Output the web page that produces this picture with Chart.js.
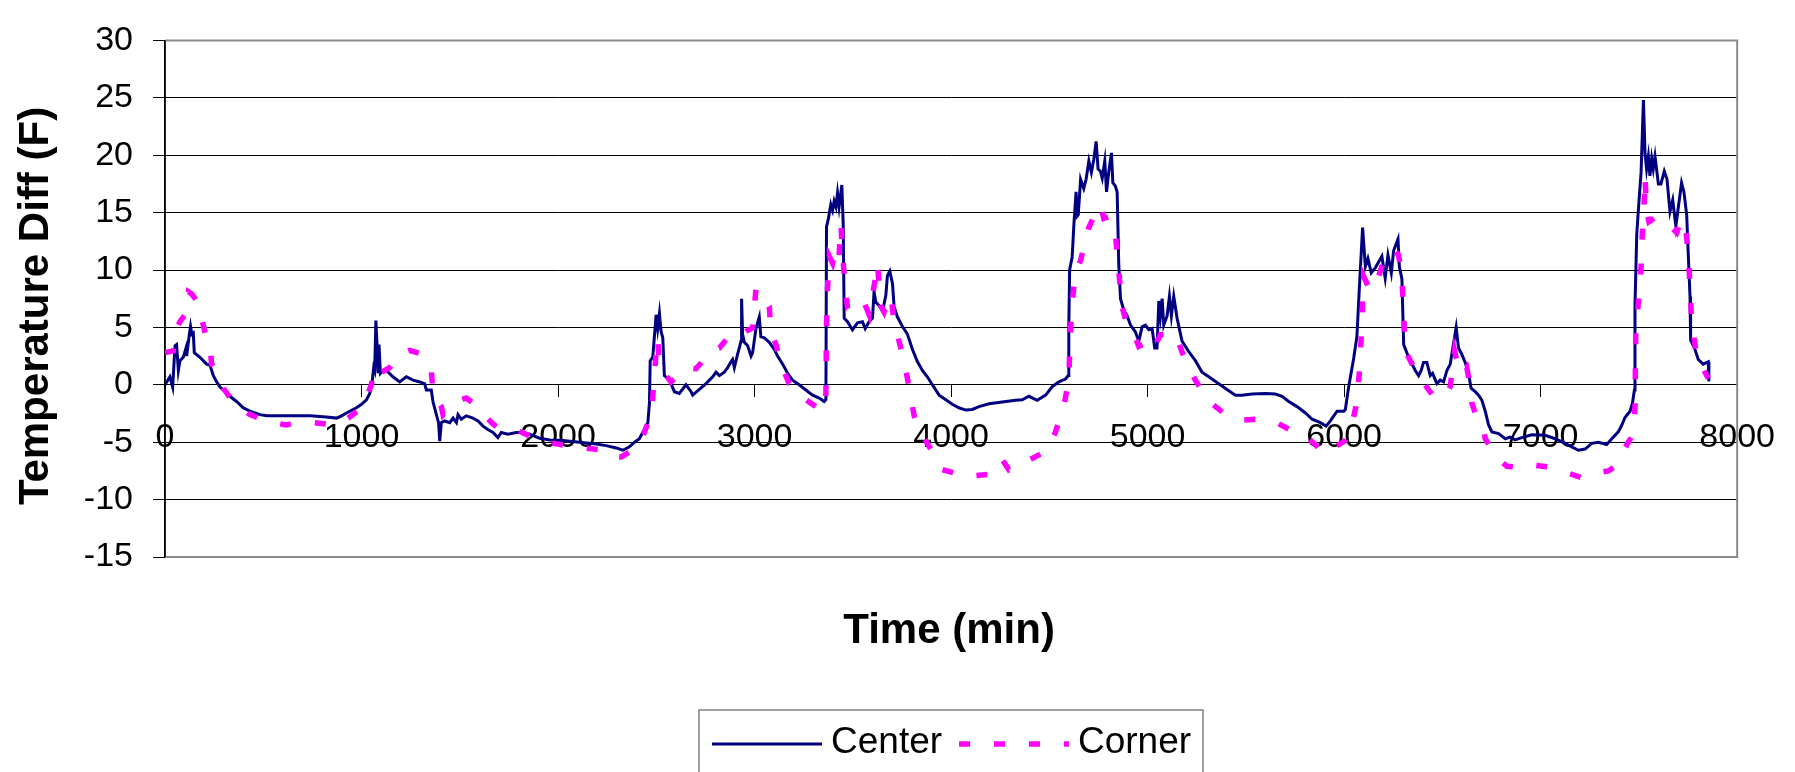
<!DOCTYPE html>
<html>
<head>
<meta charset="utf-8">
<script src="https://cdn.jsdelivr.net/npm/chart.js@4.4.1/dist/chart.umd.min.js"></script>
<style>
html,body{margin:0;padding:0;background:#fff;overflow:hidden}
canvas{display:block}
</style>
</head>
<body>
<canvas id="c" width="1795" height="772"></canvas>
<script>
const seriesNames = ['Center', 'Corner'];
const xAxisTitle = 'Time (min)';
const yAxisTitle = 'Temperature Diff (F)';

const centerTime = [0,25,39,51,59,68,76,93,107,110,124,130,137,144,149,178,195,212,229,246,263,280,305,330,364,398,432,483,517,567,652,737,822,873,898,940,974,1000,1025,1042,1055,1062,1067,1073,1079,1084,1089,1096,1110,1127,1160,1194,1228,1262,1296,1321,1330,1355,1364,1381,1392,1398,1406,1423,1449,1466,1483,1491,1508,1533,1567,1593,1618,1643,1669,1694,1711,1745,1787,1821,1855,1906,1957,2025,2109,2194,2245,2296,2330,2363,2389,2414,2440,2457,2465,2469,2482,2499,2507,2516,2524,2533,2541,2567,2592,2617,2651,2677,2685,2719,2753,2787,2804,2821,2846,2863,2880,2888,2897,2914,2922,2931,2934,2939,2948,2965,2982,2990,3007,3024,3032,3049,3075,3100,3117,3143,3168,3193,3227,3261,3295,3329,3354,3363,3366,3376,3388,3397,3405,3414,3422,3430,3444,3451,3456,3473,3498,3524,3549,3563,3583,3600,3608,3617,3634,3651,3668,3676,3688,3702,3710,3727,3752,3778,3803,3829,3854,3879,3905,3939,3973,4006,4040,4074,4108,4142,4193,4260,4328,4362,4396,4438,4481,4515,4548,4582,4596,4599,4603,4616,4625,4636,4642,4647,4659,4675,4687,4701,4714,4726,4738,4748,4760,4769,4782,4791,4802,4816,4823,4836,4845,4853,4862,4879,4896,4913,4938,4955,4972,4989,5006,5023,5036,5048,5057,5065,5074,5082,5099,5111,5121,5133,5150,5175,5209,5243,5277,5311,5362,5395,5446,5480,5532,5600,5650,5684,5718,5760,5803,5837,5879,5908,5930,5964,5998,6006,6023,6048,6065,6077,6094,6108,6121,6138,6159,6192,6209,6223,6240,6252,6274,6281,6294,6303,6328,6362,6379,6392,6404,6421,6438,6450,6472,6489,6506,6523,6540,6557,6570,6582,6599,6616,6633,6646,6667,6684,6701,6718,6735,6752,6786,6820,6845,6870,6904,6955,7023,7074,7124,7158,7192,7226,7260,7294,7336,7362,7395,7412,7429,7455,7467,7477,7480,7489,7500,7511,7523,7531,7539,7548,7556,7565,7573,7582,7599,7612,7629,7643,7658,7672,7688,7700,7717,7729,7743,7751,7760,7763,7785,7802,7827,7853,7856];
const centerTemp = [0,0.7,-0.2,3.4,3.5,1.25,2.1,2.4,3.2,2.5,4.4,5.1,4.4,4.5,2.8,2.4,2.1,1.8,1.7,0.8,0.25,-0.2,-0.6,-1.0,-1.45,-2.0,-2.3,-2.6,-2.7,-2.7,-2.7,-2.7,-2.8,-2.9,-2.7,-2.3,-2.0,-1.7,-1.3,-0.75,0.4,1.5,1.25,5.6,3.5,1.0,3.5,1.0,1.25,1.25,0.7,0.25,0.7,0.4,0.25,0.1,-0.45,-0.45,-1.5,-2.6,-3.3,-4.9,-3.3,-3.15,-3.3,-2.9,-3.3,-2.6,-3.0,-2.7,-2.9,-3.15,-3.6,-3.9,-4.15,-4.6,-4.15,-4.3,-4.15,-4.15,-4.3,-4.65,-4.8,-4.85,-5.0,-5.15,-5.3,-5.5,-5.7,-5.4,-5.0,-4.7,-3.85,-3.3,-1.6,2.1,2.4,6.1,4.9,6.2,4.65,4.1,0.8,0.4,-0.6,-0.75,0,-0.6,-0.9,-0.4,0.1,0.7,1.1,0.8,1.1,1.5,2.0,2.2,1.5,2.7,3.2,3.8,7.5,4.4,3.7,3.4,2.5,2.8,4.9,5.9,4.2,4.1,3.7,3.1,2.5,1.8,1.0,0.4,0,-0.45,-0.9,-1.15,-1.45,-1.3,13.75,14.5,15.7,15.2,16.0,15.5,16.7,15.5,17.4,14.0,5.8,5.5,4.8,5.4,5.5,4.9,5.5,5.8,8.1,7.2,6.9,6.4,7.8,9.5,9.9,8.8,6.8,5.9,5.1,4.4,3.1,2.0,1.25,0.7,0,-0.9,-1.3,-1.7,-2.0,-2.2,-2.15,-1.9,-1.65,-1.5,-1.35,-1.3,-1.0,-1.35,-0.9,-0.15,0.25,0.5,0.8,4.9,10.0,11.1,14.0,16.8,14.7,14.8,17.9,17.1,17.9,19.5,18.5,19.6,21.2,18.8,18.6,18.0,19.5,16.8,18.5,20.2,17.6,17.3,16.8,10.6,7.5,6.5,6.0,5.2,4.6,3.8,5.05,5.2,4.8,4.9,3.2,3.2,7.3,6.0,7.5,5.2,6.0,7.7,6.0,7.7,5.8,3.8,2.9,2.1,1.1,0.7,0.1,-0.3,-0.9,-0.9,-0.8,-0.75,-0.8,-1.0,-1.45,-1.9,-2.45,-3.0,-3.3,-3.6,-3.15,-2.3,-2.3,-2.15,-0.2,2.25,4.2,8.3,13.7,10.3,11.0,9.75,10.2,11.2,9.3,11.3,9.75,11.7,12.7,10.3,9.2,3.5,2.4,1.25,0.8,1.25,1.95,1.95,0.8,1.0,0.1,0.4,0.25,1.25,1.8,3.65,5.0,3.2,2.65,1.95,1.0,-0.3,-0.6,-0.9,-1.35,-2.3,-3.5,-4.1,-4.25,-4.7,-4.55,-4.8,-4.6,-4.35,-4.4,-4.7,-5.1,-5.4,-5.7,-5.6,-5.1,-5.0,-5.2,-4.7,-4.1,-3.55,-2.85,-2.3,-1.6,-0.45,6.9,13.1,15.9,18.5,24.8,20.2,18.8,19.9,18.2,19.7,18.8,19.9,17.5,17.5,18.6,17.9,15.1,16.1,13.8,15.4,17.6,16.8,14.8,11.4,7.7,3.9,3.1,2.2,1.8,2.0,0.3];

const cornerTime = [0,42,68,76,102,119,136,161,178,212,229,237,254,297,339,364,432,449,517,618,669,762,864,932,1008,1050,1067,1093,1143,1194,1245,1304,1355,1364,1406,1415,1457,1483,1533,1593,1627,1669,1703,1745,1796,1855,1923,1991,2075,2160,2228,2270,2321,2363,2397,2440,2474,2490,2499,2507,2516,2541,2575,2609,2651,2702,2753,2770,2821,2863,2905,2956,2990,3007,3024,3049,3075,3083,3109,3134,3176,3210,3261,3320,3349,3363,3366,3371,3380,3397,3414,3430,3439,3447,3456,3473,3498,3532,3557,3583,3600,3617,3625,3642,3659,3676,3693,3710,3735,3761,3786,3812,3837,3905,3956,4023,4074,4125,4193,4235,4260,4294,4354,4387,4430,4481,4528,4574,4599,4605,4616,4633,4659,4681,4701,4726,4743,4760,4777,4802,4819,4836,4853,4867,4887,4921,4955,4989,5023,5065,5091,5124,5158,5192,5243,5311,5387,5472,5549,5667,5777,5820,5904,5930,6006,6031,6060,6077,6087,6094,6099,6133,6159,6192,6218,6235,6252,6277,6294,6303,6311,6328,6362,6396,6430,6463,6514,6540,6562,6582,6599,6624,6633,6650,6667,6709,6718,6777,6828,6904,6946,7057,7108,7209,7251,7345,7378,7446,7472,7480,7482,7484,7497,7511,7517,7528,7531,7539,7551,7590,7633,7667,7692,7709,7734,7751,7760,7768,7794,7819,7853];
const cornerTemp = [2.8,2.95,5.2,5.5,6.1,8.1,7.9,7.35,6.4,3.95,3.5,1.8,1.4,-0.3,-1.3,-1.6,-2.6,-2.7,-3.2,-3.5,-3.3,-3.3,-3.5,-2.9,-1.9,0,1.5,1.0,1.5,2.7,3.0,2.7,1.25,-0.75,-1.9,-2.6,-1.75,-1.45,-1.15,-1.9,-2.7,-3.4,-3.85,-4.0,-4.0,-4.45,-4.85,-5.15,-5.4,-5.55,-5.7,-6.3,-6.3,-5.85,-5.55,-4.15,-2.45,0.4,2.95,4.1,1.5,1.0,0.25,0.8,1.5,1.4,2.4,2.95,3.2,4.1,3.95,4.65,4.95,8.35,8.35,7.5,6.8,4.65,3.5,1.8,0.1,-0.3,-1.3,-2.0,-2.3,-0.75,5.2,8.35,11.2,10.6,12.0,11.2,14.0,11.75,9.5,6.65,6.35,6.65,7.2,6.1,7.8,9.5,10.6,6.9,6.35,7.2,7.8,5.5,3.8,2.1,-0.2,-2.7,-3.9,-5.85,-7.4,-7.7,-8.0,-7.9,-7.8,-7.4,-6.5,-7.4,-6.95,-6.65,-6.25,-5.8,-4.25,-1.85,0.4,3.8,7.2,9.7,10.85,12.4,13.7,14.65,15.4,15.65,14.5,14.65,14.2,13.1,10.0,7.0,5.75,4.9,3.35,3.65,2.95,4.35,4.35,4.6,3.65,2.1,0.4,-1.45,-2.45,-3.1,-3.0,-3.4,-4.4,-4.7,-6.0,-5.7,-4.85,-4.15,-1.9,0.95,4.1,7.2,9.45,8.2,8.6,10.3,11.15,11.6,11.85,11.3,9.45,6.05,2.95,2.4,1.25,0.4,-0.45,-1.15,-1.0,-0.15,2.95,1.5,0.95,1.5,0.7,-1.6,-2.45,-3.85,-4.7,-6.3,-7.1,-7.2,-6.95,-7.2,-7.5,-8.1,-7.8,-7.5,-7.1,-5.0,-4.3,-1.85,1.5,4.6,7.2,10.3,13.1,16.35,18.2,15.1,14.2,14.65,14.2,13.7,13.25,14.1,14.4,11.4,8.6,5.5,2.5,1.65,0.55];

const toPoints = (xs, ys) => xs.map((x, i) => ({x: x, y: ys[i]}));

const FONT = '"Liberation Sans", Arial, sans-serif';

const decor = {
  id: 'decor',
  beforeDatasetsDraw(chart) {
    const {ctx, chartArea: a} = chart;
    ctx.save();
    ctx.strokeStyle = '#8a8a8a';
    ctx.lineWidth = 2;
    ctx.beginPath();
    ctx.moveTo(a.left, a.top);
    ctx.lineTo(a.right, a.top);
    ctx.lineTo(a.right, a.bottom);
    ctx.lineTo(a.left, a.bottom);
    ctx.stroke();
    ctx.strokeStyle = '#000';
    ctx.lineWidth = 1.5;
    ctx.beginPath();
    ctx.moveTo(a.left, a.top);
    ctx.lineTo(a.left, a.bottom);
    ctx.stroke();
    ctx.restore();
  },
  afterDraw(chart) {
    const {ctx, chartArea: a} = chart;
    ctx.save();
    ctx.fillStyle = '#000';
    ctx.font = 'bold 42px ' + FONT;
    ctx.textAlign = 'center';
    ctx.textBaseline = 'alphabetic';
    ctx.fillText(xAxisTitle, (a.left + a.right) / 2 - 2, 643);
    ctx.save();
    ctx.translate(48, 306);
    ctx.rotate(-Math.PI / 2);
    ctx.fillText(yAxisTitle, 0, 0);
    ctx.restore();
    ctx.strokeStyle = '#808080';
    ctx.lineWidth = 1.5;
    ctx.strokeRect(699, 710, 504, 120);
    const items = [
      {ds: chart.data.datasets[0], x0: 712, x1: 822, tx: 831},
      {ds: chart.data.datasets[1], x0: 959, x1: 1069, tx: 1078}
    ];
    ctx.font = '37px ' + FONT;
    ctx.textAlign = 'left';
    items.forEach(it => {
      ctx.save();
      ctx.strokeStyle = it.ds.borderColor;
      ctx.lineWidth = it.ds.borderWidth;
      ctx.setLineDash(it.ds.borderDash || []);
      ctx.beginPath();
      ctx.moveTo(it.x0, 744);
      ctx.lineTo(it.x1, 744);
      ctx.stroke();
      ctx.restore();
      ctx.fillStyle = '#000';
      ctx.fillText(it.ds.label, it.tx, 753);
    });
    ctx.restore();
  }
};

new Chart(document.getElementById('c'), {
  type: 'line',
  data: {
    datasets: [
      {
        label: seriesNames[0],
        data: toPoints(centerTime, centerTemp),
        borderColor: '#000080',
        borderWidth: 3,
        pointRadius: 0,
        tension: 0,
        fill: false,
        order: 2
      },
      {
        label: seriesNames[1],
        data: toPoints(cornerTime, cornerTemp),
        borderColor: '#ff00ff',
        borderWidth: 5.5,
        borderDash: [11, 24],
        borderCapStyle: 'butt',
        pointRadius: 0,
        tension: 0,
        fill: false,
        order: 1
      }
    ]
  },
  options: {
    responsive: false,
    animation: false,
    devicePixelRatio: 1,
    layout: {padding: {left: 0, top: 26, right: 55, bottom: 215}},
    plugins: {legend: {display: false}, tooltip: {enabled: false}},
    scales: {
      x: {
        type: 'linear',
        position: {y: 0},
        min: 0,
        max: 8000,
        ticks: {
          stepSize: 1000,
          color: '#000',
          font: {family: FONT, size: 34},
          padding: 20,
          maxRotation: 0,
          callback: v => String(v)
        },
        grid: {drawOnChartArea: false, drawTicks: true, tickLength: 12, color: '#000', lineWidth: 1},
        border: {display: true, color: '#000', width: 1}
      },
      y: {
        type: 'linear',
        min: -15,
        max: 30,
        afterFit: s => { s.width = 165; },
        ticks: {
          stepSize: 5,
          color: '#000',
          font: {family: FONT, size: 34},
          padding: 20,
          callback: v => String(v)
        },
        grid: {color: '#000', lineWidth: 1, tickLength: 12, drawTicks: true},
        border: {display: true, color: '#000', width: 1.5}
      }
    }
  },
  plugins: [decor]
});
</script>
</body>
</html>
